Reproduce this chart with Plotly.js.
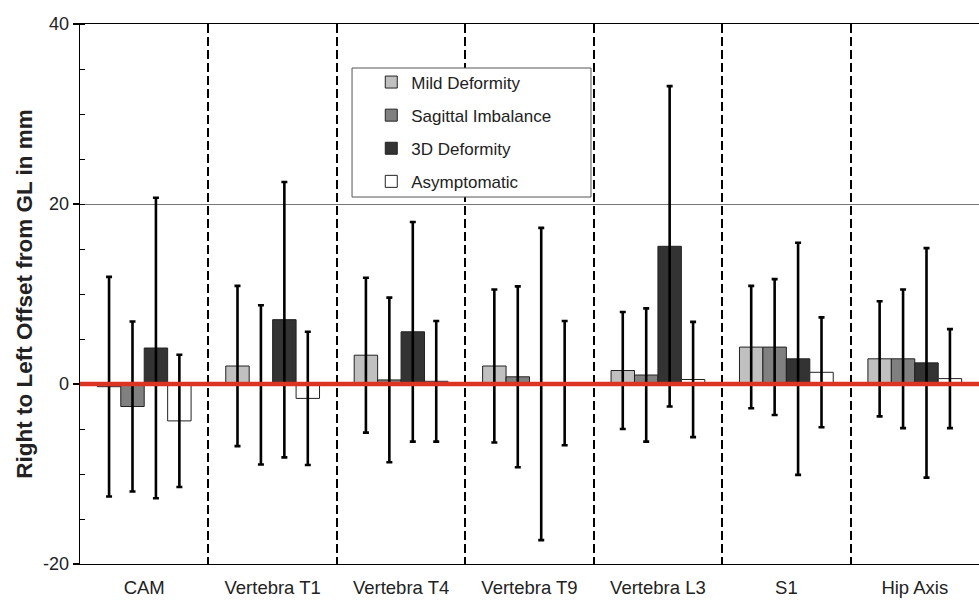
<!DOCTYPE html>
<html>
<head>
<meta charset="utf-8">
<script src="https://cdn.plot.ly/plotly-3.0.1.min.js"></script>
<style>html,body{margin:0;padding:0;background:#fff;}#chart{width:979px;height:601px;}</style>
</head>
<body>
<div id="chart"></div>
<script>
const categories = ['CAM', 'Vertebra T1', 'Vertebra T4', 'Vertebra T9', 'Vertebra L3', 'S1', 'Hip Axis'];
const seriesNames = ['Mild Deformity', 'Sagittal Imbalance', '3D Deformity', 'Asymptomatic'];
const mild     = [-0.3, 2.0, 3.2, 2.0, 1.5, 4.1, 2.8];
const mildSD   = [12.2, 8.9, 8.6, 8.5, 6.5, 6.8, 6.4];
const sagittal   = [-2.5, -0.1, 0.45, 0.8, 1.0, 4.1, 2.8];
const sagittalSD = [9.45, 8.85, 9.15, 10.05, 7.4, 7.55, 7.7];
const deform3d   = [4.0, 7.15, 5.8, 0.0, 15.3, 2.8, 2.35];
const deform3dSD = [16.7, 15.3, 12.2, 17.35, 17.8, 12.9, 12.75];
const asymptomatic   = [-4.1, -1.6, 0.3, 0.1, 0.5, 1.3, 0.6];
const asymptomaticSD = [7.35, 7.4, 6.7, 6.9, 6.4, 6.1, 5.5];
const yTicks = [-20, 0, 20, 40];

const colors = ['#c0c0c0', '#808080', '#333333', '#ffffff'];
const values = [mild, sagittal, deform3d, asymptomatic];
const sds = [mildSD, sagittalSD, deform3dSD, asymptomaticSD];

const traces = seriesNames.map((name, i) => ({
  type: 'bar',
  name: name,
  legendgroup: 'g' + i,
  x: categories,
  y: values[i],
  marker: {color: colors[i], line: {color: '#222', width: 1}},
  error_y: {type: 'data', array: sds[i], visible: true, color: '#000', thickness: 2.6, width: 3},
  hoverinfo: 'skip'
}));

const layout = {
  width: 979, height: 601,
  margin: {l: 80, r: 0, t: 24, b: 37},
  paper_bgcolor: '#fff', plot_bgcolor: '#fff',
  font: {family: 'Arial, "Liberation Sans", sans-serif', color: '#222'},
  barmode: 'group', bargap: 0.27, bargroupgap: 0,
  showlegend: true,
  legend: {
    x: 0.324, xanchor: 'left', y: 0.925, yanchor: 'top',
    bgcolor: 'rgba(0,0,0,0)', borderwidth: 0,
    font: {size: 17, color: '#222'},
    tracegroupgap: 8, traceorder: 'grouped'
  },
  xaxis: {
    type: 'category',
    tickson: 'boundaries',
    showgrid: true, gridcolor: '#000', gridwidth: 2, griddash: '9px,4px',
    ticks: 'outside', ticklen: 15, tickcolor: 'rgba(0,0,0,0)',
    ticklabelstandoff: 6,
    tickfont: {size: 18.5, color: '#222'},
    showline: true, linecolor: '#000', linewidth: 1.3, mirror: true,
    zeroline: false
  },
  yaxis: {
    range: [-20, 40], tickvals: yTicks, ticktext: yTicks.map(String),
    ticks: 'outside', ticklen: 6, tickwidth: 1.2, tickcolor: '#000',
    minor: {dtick: 5, tick0: 0, ticks: 'inside', ticklen: 5, tickwidth: 1, tickcolor: '#000', showgrid: false},
    tickfont: {size: 18, color: '#222'},
    showgrid: true, gridcolor: '#777', gridwidth: 1,
    showline: true, linecolor: '#000', linewidth: 1.3, mirror: false,
    zeroline: false,
    title: {text: '<b>Right to Left Offset from GL in mm</b>', font: {size: 22.5, color: '#222'}, standoff: 4}
  },
  shapes: [
    {type: 'rect', xref: 'paper', yref: 'paper', x0: 0.3026, x1: 0.5684, y0: 0.6796, y1: 0.9185,
     fillcolor: '#fff', line: {color: '#555', width: 1}, layer: 'above'},
    {type: 'line', xref: 'paper', yref: 'y', x0: 0, x1: 1, y0: 0, y1: 0,
     line: {color: '#dd3322', width: 4.3}, layer: 'above'}
  ]
};

Plotly.newPlot('chart', traces, layout, {displayModeBar: false, staticPlot: true});
</script>
</body>
</html>
